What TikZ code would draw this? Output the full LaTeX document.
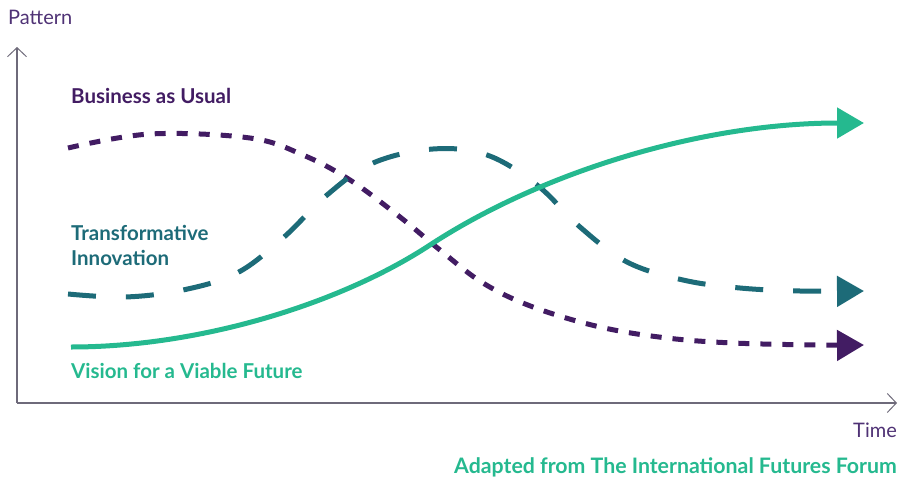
\documentclass[tikz,border=0pt]{standalone}
\usepackage{fontspec}
\setmainfont{Lato}
\usetikzlibrary{arrows.meta}

\definecolor{bauPurple}{HTML}{421C63}
\definecolor{tiTeal}{HTML}{1D6B78}
\definecolor{vvfGreen}{HTML}{25B98F}
\definecolor{axisGray}{HTML}{6E6A7A}
\definecolor{axisText}{HTML}{4F3275}

\begin{document}
\begin{tikzpicture}[
    x=1pt, y=-1pt,
    axis/.style={draw=axisGray, line width=1.3pt, -{Straight Barb[length=9pt, width=19pt, line width=1pt]}},
    axislabel/.style={font=\fontsize{20}{24}\selectfont, text=axisText, inner sep=0pt},
    curvelabel/.style={font=\fontsize{20.5}{25}\selectfont\bfseries, inner sep=0pt, anchor=west, align=left},
    curve/.style={line width=5pt, -{Triangle[length=27pt, width=30pt]}},
    bau/.style={curve, draw=bauPurple, dash pattern=on 11pt off 11pt},
    ti/.style={curve, draw=tiTeal, dash pattern=on 28pt off 30pt},
    vvf/.style={curve, draw=vvfGreen}
]
\useasboundingbox (0,0) rectangle (898,482);

% Axes
\coordinate (origin) at (17,403);
\coordinate (ytop) at (17,47);
\coordinate (xend) at (897,403);
\draw[axis] (origin) -- (ytop);
\draw[axis] (origin) -- (xend);
\node[axislabel, anchor=west] (pattern) at (8,17) {Pattern};
\node[axislabel, anchor=east] (time) at (897,430) {Time};

% Business as Usual
\draw[bau] plot[smooth, tension=0.6] coordinates {
    (68,148) (150,134) (250,138) (303,155) (350,180) (400,217) (440,250)
    (483,283) (533,307) (600,327) (667,338) (733,343) (817,345) (864,345)};

% Transformative Innovation
\draw[ti] plot[smooth, tension=0.6] coordinates {
    (68,294) (125,297) (183,290) (237,273) (283,238) (327,195) (373,163)
    (433,149) (487,155) (537,185) (580,227) (627,262) (683,280) (740,288)
    (800,291) (864,291)};

% Vision for a Viable Future
\coordinate (vvfStart) at (71,347);
\coordinate (vvfMid) at (430,245);
\coordinate (vvfEnd) at (864,123);
\draw[vvf] (vvfStart) .. controls (200,347) and (340,304) .. (vvfMid)
    .. controls (540,173) and (700,123) .. (vvfEnd);

% Labels
\node[curvelabel, text=bauPurple] (bauLabel) at (71,96) {Business as Usual};
\node[curvelabel, text=tiTeal] (tiLabel) at (71,245) {Transformative\\Innovation};
\node[curvelabel, text=vvfGreen] (vvfLabel) at (71,371) {Vision for a Viable Future};
\node[curvelabel, text=vvfGreen, anchor=east, font=\fontsize{21.3}{25}\selectfont\bfseries] (source) at (897,467) {Adapted from The International Futures Forum};

\end{tikzpicture}
\end{document}
